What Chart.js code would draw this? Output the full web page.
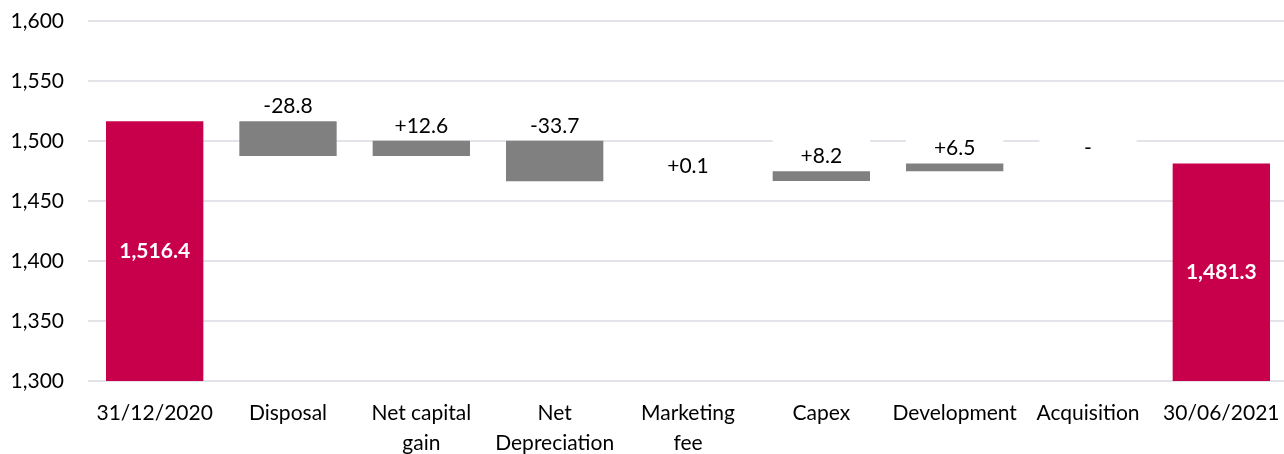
<!DOCTYPE html>
<html>
<head>
<meta charset="utf-8">
<script src="https://cdn.jsdelivr.net/npm/chart.js@4.4.1/dist/chart.umd.min.js"></script>
<style>
  html, body { margin: 0; padding: 0; background: #fff; overflow: hidden; }
  #wrap { width: 1288px; height: 454px; }
</style>
</head>
<body>
<div id="wrap"><canvas id="c" width="1288" height="454"></canvas></div>
<script>
// Portfolio value bridge, 31/12/2020 to 30/06/2021
const categories = [
  '31/12/2020', 'Disposal', ['Net capital', 'gain'], ['Net', 'Depreciation'],
  ['Marketing', 'fee'], 'Capex', 'Development', 'Acquisition', '30/06/2021'
];
const openingValue = 1516.4;
const movements = [-28.8, 12.6, -33.7, 0.1, 8.2, 6.5, 0];   // Disposal .. Acquisition
const yTicks = [1300, 1350, 1400, 1450, 1500, 1550, 1600];

const RED = '#C8004B';
const GREY = '#808080';
const FONT = 'Lato, "Open Sans", sans-serif';
const TEXT = '#000000';

// Build floating ranges from the running total
const ranges = [[1300, openingValue]];
const colors = [RED];
const labels = [openingValue];
let running = openingValue;
movements.forEach(m => {
  const next = Math.round((running + m) * 10) / 10;
  ranges.push([running, next]);
  colors.push(GREY);
  labels.push(m);
  running = next;
});
const closingValue = running;
ranges.push([1300, closingValue]);
colors.push(RED);
labels.push(closingValue);

const fmtTotal = v => v.toLocaleString('en-US', { minimumFractionDigits: 1, maximumFractionDigits: 1 });
const fmtMove = v => v === 0 ? '-' : (v > 0 ? '+' : '') + v.toFixed(1);

// Bars thinner than one pixel are not painted (no hairline slivers)
function barColor(ctx) {
  const y = ctx.chart.scales.y;
  const r = ranges[ctx.dataIndex];
  if (y && Math.abs(y.getPixelForValue(r[0]) - y.getPixelForValue(r[1])) < 1) return 'rgba(0,0,0,0)';
  return colors[ctx.dataIndex];
}

const barLabels = {
  id: 'barLabels',
  afterDatasetsDraw(chart) {
    const ctx = chart.ctx;
    const meta = chart.getDatasetMeta(0);
    const last = meta.data.length - 1;
    meta.data.forEach((el, i) => {
      const top = Math.min(el.y, el.base);
      const bottom = Math.max(el.y, el.base);
      ctx.save();
      ctx.textAlign = 'center';
      ctx.textBaseline = 'middle';
      if (i === 0 || i === last) {
        ctx.font = 'bold 21px ' + FONT;
        ctx.fillStyle = '#ffffff';
        ctx.fillText(fmtTotal(labels[i]), el.x, (top + bottom) / 2);
      } else {
        ctx.fillStyle = '#ffffff';
        ctx.fillRect(el.x - el.width / 2, top - 33, el.width, 32);
        ctx.font = '21px ' + FONT;
        ctx.fillStyle = TEXT;
        ctx.fillText(fmtMove(labels[i]), el.x, top - 15);
      }
      ctx.restore();
    });
  }
};

new Chart(document.getElementById('c'), {
  type: 'bar',
  data: {
    labels: categories,
    datasets: [{
      data: ranges,
      backgroundColor: barColor,
      borderWidth: 0,
      categoryPercentage: 1,
      barPercentage: 0.73
    }]
  },
  options: {
    responsive: false,
    devicePixelRatio: 1,
    animation: false,
    layout: { padding: { top: 21, right: 0, bottom: 0, left: 0 } },
    plugins: { legend: { display: false }, tooltip: { enabled: false } },
    scales: {
      x: {
        grid: { display: false, drawTicks: false },
        border: { display: false },
        ticks: {
          color: TEXT,
          font: { family: FONT, size: 21, lineHeight: 1.4 },
          padding: 18,
          maxRotation: 0,
          autoSkip: false
        },
        afterFit(axis) { axis.height = 73; axis.paddingLeft = 0; axis.paddingRight = 0; }
      },
      y: {
        min: 1300,
        max: 1600,
        afterBuildTicks(axis) { axis.ticks = yTicks.map(v => ({ value: v })); },
        grid: { color: '#e3e3ea', lineWidth: 2, drawTicks: false },
        border: { display: false },
        ticks: {
          color: TEXT,
          font: { family: FONT, size: 21 },
          padding: 24,
          callback: v => v.toLocaleString('en-US')
        },
        afterFit(axis) { axis.width = 88; axis.paddingTop = 0; axis.paddingBottom = 0; }
      }
    }
  },
  plugins: [barLabels]
});
</script>
</body>
</html>
